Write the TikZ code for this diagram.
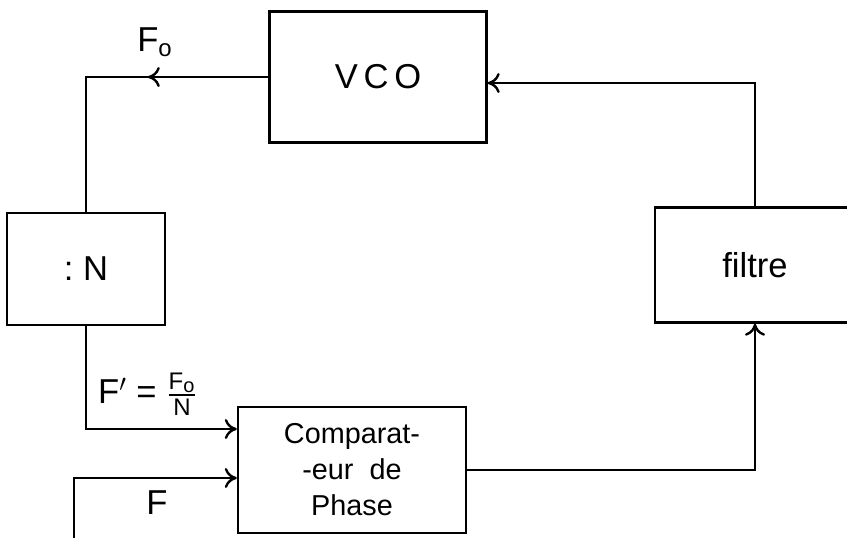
\documentclass[tikz,border=0pt]{standalone}
\usepackage{amsmath}
\usepackage{fontspec}
\setmainfont{Liberation Sans}
\usetikzlibrary{arrows.meta,decorations.markings}

\begin{document}
\begin{tikzpicture}[
    x=0.5pt, y=-0.5pt,
    block/.style={draw, rectangle, line width=1.2pt, align=center, inner sep=0pt, font=\LARGE},
    arrow/.style={-{To[length=6pt,width=10pt]}, line width=1.2pt},
    wire/.style={line width=1.2pt},
    midarrow/.style={postaction={decorate}, decoration={markings, mark=at position #1 with {\arrow{To[length=6pt,width=10pt]}}}},
    lbl/.style={font=\LARGE}
]
\useasboundingbox (0,0) rectangle (847,538);

\node[block, minimum width=108.5pt, minimum height=65.5pt] (vco) at (378,77) {V\,C\,O};
\node[block, minimum width=79pt, minimum height=56pt] (div) at (86,269) {:\ N};
\node[block, minimum width=114pt, minimum height=63pt, font=\Large] (comp) at (352,470) {Comparat-\\-eur\ \ de\\Phase};
\node[block, minimum width=100pt, minimum height=57.5pt] (filtre) at (755,265) {filtre};

\coordinate (fin) at (74,538);

\draw[wire, midarrow=0.38] (vco.west) -| (div.north);
\draw[arrow] (div.south) |- ([yshift=20.5pt]comp.west);
\draw[arrow] (fin) |- ([yshift=-4pt]comp.west);
\draw[arrow] (comp.east) -| (filtre.south);
\draw[arrow] (filtre.north) |- ([yshift=-3pt]vco.east);

\node[lbl] (fo) at (155,42) {F\textsubscript{o}};
\node[lbl] (fdiv) at (148,394) {F$'$ = $\tfrac{\textrm{F}_{\textrm{o}}}{\textrm{N}}$};
\node[lbl] (f) at (157,503) {F};

\end{tikzpicture}
\end{document}
